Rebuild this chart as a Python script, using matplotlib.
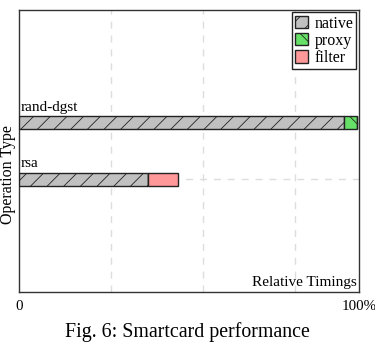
import matplotlib
matplotlib.use("Agg")
import matplotlib.pyplot as plt
from matplotlib.patches import Patch

plt.rcParams['font.family'] = ['Liberation Serif', 'DejaVu Serif']
plt.rcParams['hatch.linewidth'] = 0.6

ops = ["rsa", "rand-dgst"]
native = [0.38, 0.955]
proxy = [0.0, 0.04]
filt = [0.088, 0.0]
grid_x = [0.2706, 0.541, 0.812]

fig = plt.figure(figsize=(3.75, 3.42), dpi=100)
ax = fig.add_axes([0.051, 0.146, 0.906, 0.825])

ypos = list(range(len(ops)))
h = 0.23
ax.barh(ypos, native, height=h, color="#c0c0c0", edgecolor="#222222",
        hatch="//", linewidth=1.0, zorder=3)
left = [n for n in native]
ax.barh(ypos, proxy, left=left, height=h, color="#66e066", edgecolor="#222222",
        hatch="\\", linewidth=1.0, zorder=3)
left = [n + p for n, p in zip(native, proxy)]
ax.barh(ypos, filt, left=left, height=h, color="#ff9999", edgecolor="#222222",
        linewidth=1.0, zorder=3)

for y, name in zip(ypos, ops):
    ax.text(0.003, y + h / 2 + 0.04, name, fontsize=11, ha="left", va="bottom")

ax.set_xlim(0, 1.0)
ax.set_ylim(-2, 3)
ax.set_xticks([0, 1.0])
ax.set_xticklabels(["0", "100%"], fontsize=10.8)
ax.set_xticks(grid_x, minor=True)
ax.set_yticks(ypos)
ax.set_yticklabels([])
ax.tick_params(which="both", length=0, pad=6)
ax.grid(True, which="minor", axis="x", color="#dddddd", linestyle=(0, (5, 5)), linewidth=1)
ax.grid(True, which="major", axis="y", color="#dddddd", linestyle=(0, (5, 5)), linewidth=1)
for s in ax.spines.values():
    s.set_color("#333333")
    s.set_linewidth(1.0)

ax.set_ylabel("Operation Type", fontsize=11.5)
ax.yaxis.set_label_coords(-0.008, 0.415)
ax.text(0.995, 0.01, "Relative Timings", transform=ax.transAxes,
        ha="right", va="bottom", fontsize=11)

handles = [Patch(facecolor="#c0c0c0", edgecolor="#222222", hatch="//", label="native"),
           Patch(facecolor="#66e066", edgecolor="#222222", hatch="\\", label="proxy"),
           Patch(facecolor="#ff9999", edgecolor="#222222", label="filter")]
leg = ax.legend(handles=handles, loc="upper right", fontsize=11.5, fancybox=False,
                framealpha=1, edgecolor="#222222", handlelength=0.8, handleheight=0.8,
                handletextpad=0.4, borderpad=0.2, labelspacing=0.08,
                borderaxespad=0.15)
leg.get_frame().set_linewidth(1.0)

fig.text(0.5, 0.028, "Fig. 6: Smartcard performance", ha="center", va="center", fontsize=14.3)

fig.savefig("out.png", dpi=100)
